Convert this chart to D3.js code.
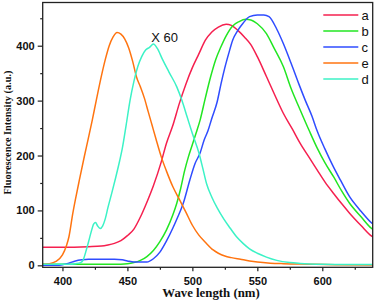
<!DOCTYPE html>
<html><head><meta charset="utf-8">
<script src="https://cdn.jsdelivr.net/npm/d3@7"></script>
<style>
html,body{margin:0;padding:0;background:#fff;}
svg{display:block;}
</style></head>
<body>
<svg id="chart" width="375" height="303"></svg>
<script>
// ---- data ----
const seriesNames = ["a", "b", "c", "e", "d"];
const seriesColors = ["#f5204f", "#22e622", "#2f4cff", "#ff7410", "#3cf2c6"];

const aWave = [385,400,420,430,435,440,445,450,455,460,465,470,476,480,485,490,495,500,505,510,515,520,526,530,535,540,545,550,557,565,570,577,583,590,596,602,609,615,621,630,638,645];
const aVal  = [33,33,34,35,37,40,45,54,66,88,115,145,188,222,255,295,330,360,385,410,425,434,439,437,428,416,402,380,344,302,277,248,222,196,174,152,130,112,95,72,53,45];

const bWave = [385,420,440,450,455,460,465,470,475,480,485,488,491,494,497,500,503,506,510,514,518,522,526,531,536,541,545,550,557,563,570,576,583,590,596,602,609,615,621,630,638,645];
const bVal  = [2,2,2,3,5,9,16,27,43,64,92,113,140,172,198,220,242,265,305,343,375,398,418,436,444,448,447,440,422,395,362,322,283,245,214,187,160,135,113,88,67,58];

const cWave = [385,395,400,405,410,415,420,430,440,446,450,455,460,465,470,475,480,485,488,493,498,502,506,509,512,515,519,522,525,528,531,535,539,544,550,555,559,565,570,576,582,587,592,596,602,608,614,621,630,638,645];
const cVal  = [0,0,1,4,8,10,11,11,11,10,8,6,6,6,12,24,44,68,84,113,155,185,205,228,245,268,297,330,360,386,410,428,441,453,456,456,453,430,404,368,330,300,272,245,212,182,155,125,98,77,66];

const eWave = [385,390,395,400,403,405,408,410,413,417,420,423,426,430,433,436,439,442,445,448,451,454,457,460,463,466,469,472,476,480,485,490,495,500,505,510,516,520,525,530,537,544,550,560,570,590,610,645];
const eVal  = [2,3,7,19,35,52,95,120,155,200,232,265,300,345,375,400,416,424,421,412,396,372,343,325,305,280,255,230,198,172,143,120,97,73,55,42,28,22,17,14,11,8,6,4,3,2,1,0.5];

const dWave = [385,395,405,410,414,416,418,420,422,424,425.5,427,429,431,433,435,438,441,444,446,449,452,455,458,461,464,467,470,473,477,482,488,492,496,500,505,508,511,515,519,524,529,534,539,544,550,557,565,575,583,600,620,645];
const dVal  = [2,2,2,3,5,10,25,42,60,75,78,72,67,72,85,105,132,160,190,212,255,300,335,362,380,392,397,403,395,375,352,325,300,270,240,205,177,148,124,105,85,68,52,40,30,22,15,9,5,3.5,2,1.5,1.5];

const xTicks = [400, 450, 500, 550, 600];
const yTicks = [0, 100, 200, 300, 400];
const xLabel = "Wave length (nm)";
const yLabel = "Fluorescence Intensity (a.u.)";
const annotation = "X 60";

const waves = [aWave, bWave, cWave, eWave, dWave];
const vals = [aVal, bVal, cVal, eVal, dVal];

// ---- layout ----
const L = 42.7, R = 372.7, T = 2.5, B = 267.3;
const svg = d3.select("#chart");
const x = d3.scaleLinear().domain([384.8, 638.8]).range([L, R]);
const y = d3.scaleLinear().domain([-3.6, 478.7]).range([B, T]);

svg.append("defs").append("clipPath").attr("id", "clip")
  .append("rect").attr("x", L).attr("y", T).attr("width", R - L).attr("height", B - T);

// curves
const line = d3.line().x(d => x(d[0])).y(d => y(d[1])).curve(d3.curveMonotoneX);
const g = svg.append("g").attr("clip-path", "url(#clip)");
seriesNames.forEach((n, i) => {
  const pts = waves[i].map((w, k) => [w, vals[i][k]]);
  g.append("path").datum(pts).attr("d", line)
    .attr("fill", "none").attr("stroke", seriesColors[i]).attr("stroke-width", 1.5)
    .attr("stroke-linejoin", "round");
});

// frame
svg.append("rect").attr("x", L).attr("y", T).attr("width", R - L).attr("height", B - T)
  .attr("fill", "none").attr("stroke", "#222").attr("stroke-width", 1.3);

// axes
const xAxis = d3.axisBottom(x).tickValues(xTicks).tickSize(4).tickSizeOuter(0).tickPadding(6);
const gx = svg.append("g").attr("transform", `translate(0,${B})`).call(xAxis);
gx.select(".domain").remove();
const xMinor = d3.axisBottom(x).tickValues([425, 475, 525, 575, 625]).tickSize(2.5).tickFormat("");
const gxm = svg.append("g").attr("transform", `translate(0,${B})`).call(xMinor);
gxm.select(".domain").remove();

const yAxis = d3.axisLeft(y).tickValues(yTicks).tickSize(5).tickSizeOuter(0).tickPadding(3);
const gy = svg.append("g").attr("transform", `translate(${L},0)`).call(yAxis);
gy.select(".domain").remove();
const yMinor = d3.axisLeft(y).tickValues([50, 150, 250, 350, 450]).tickSize(2.5).tickFormat("");
const gym = svg.append("g").attr("transform", `translate(${L},0)`).call(yMinor);
gym.select(".domain").remove();

[gx, gxm, gy, gym].forEach(s => {
  s.selectAll("line").attr("stroke", "#222").attr("stroke-width", 1.2);
  s.selectAll("text").attr("font-family", "Liberation Sans, Arial, sans-serif")
    .attr("font-weight", "bold").attr("font-size", 11).attr("fill", "#111");
});

// axis titles
svg.append("text").attr("x", 211).attr("y", 297)
  .attr("text-anchor", "middle").attr("font-family", "Liberation Serif, Times New Roman, serif")
  .attr("font-weight", "bold").attr("font-size", 12.8).attr("fill", "#111").text(xLabel);
svg.append("text").attr("transform", `translate(10.8,132.5) rotate(-90)`)
  .attr("text-anchor", "middle").attr("font-family", "Liberation Serif, Times New Roman, serif")
  .attr("font-weight", "bold").attr("font-size", 10.3).attr("fill", "#111").text(yLabel);

// annotation
svg.append("text").attr("x", x(468.3)).attr("y", 42)
  .attr("font-family", "Liberation Sans, Arial, sans-serif").attr("font-size", 13)
  .attr("fill", "#111").text(annotation);

// legend
const lg = svg.append("g");
seriesNames.forEach((n, i) => {
  const yy = 15 + i * 16;
  lg.append("line").attr("x1", 323.3).attr("x2", 358.3).attr("y1", yy).attr("y2", yy)
    .attr("stroke", seriesColors[i]).attr("stroke-width", 1.5);
  lg.append("text").attr("x", 361.5).attr("y", yy + 4.5)
    .attr("font-family", "Liberation Sans, Arial, sans-serif").attr("font-size", 13)
    .attr("fill", "#111").text(n);
});
</script>
</body></html>
